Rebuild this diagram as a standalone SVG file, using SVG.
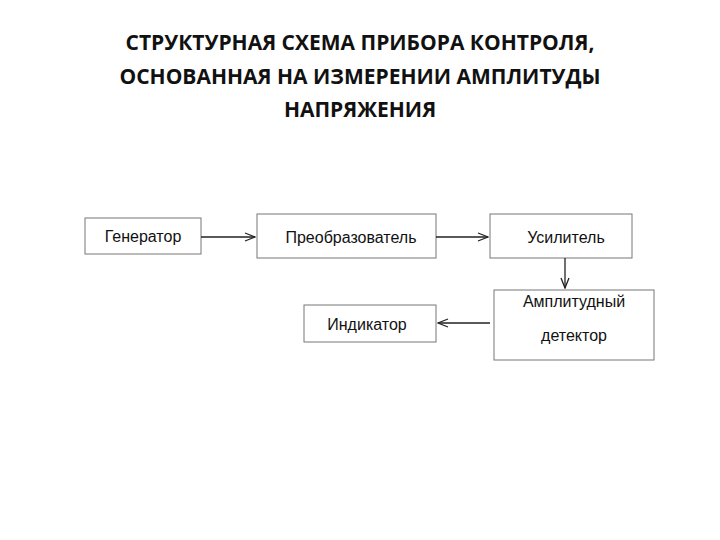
<svg xmlns="http://www.w3.org/2000/svg" width="720" height="540" viewBox="0 0 720 540">
<style>
.t{font-family:"Open Sans","Liberation Sans",sans-serif;font-weight:bold;font-size:21px;fill:#111;text-anchor:middle}
.b{fill:#fff;stroke:#777;stroke-width:1}
.l{font-family:"Liberation Sans",Arial,sans-serif;font-size:16px;fill:#111;text-anchor:middle}
.c{stroke:#222;stroke-width:1.3;fill:none}
</style>
<defs><marker id="a" markerWidth="12" markerHeight="10" refX="11" refY="5" orient="auto" markerUnits="userSpaceOnUse"><path d="M1,1 L11,5 L1,9" fill="none" stroke="#222" stroke-width="1.3"/></marker></defs>
<rect width="720" height="540" fill="#fff"/>
<text class="t" x="360" y="50">СТРУКТУРНАЯ СХЕМА ПРИБОРА КОНТРОЛЯ,</text>
<text class="t" x="360" y="84">ОСНОВАННАЯ НА ИЗМЕРЕНИИ АМПЛИТУДЫ</text>
<text class="t" x="360" y="117">НАПРЯЖЕНИЯ</text>
<g id="gen"><rect class="b" x="85" y="218" width="116" height="36"/><text class="l" x="143" y="242">Генератор</text></g>
<g id="pre"><rect class="b" x="257" y="214" width="179" height="44"/><text class="l" x="351" y="243">Преобразователь</text></g>
<g id="amp"><rect class="b" x="490" y="214" width="142" height="44"/><text class="l" x="566" y="243">Усилитель</text></g>
<g id="det"><rect class="b" x="494" y="290" width="160" height="70"/><text class="l" x="574" y="307">Амплитудный</text><text class="l" x="574" y="341">детектор</text></g>
<g id="ind"><rect class="b" x="304" y="305" width="132" height="37"/><text class="l" x="367" y="330">Индикатор</text></g>
<g id="connectors">
<line class="c" x1="201" y1="237" x2="255" y2="237" marker-end="url(#a)"/>
<line class="c" x1="436" y1="237" x2="488" y2="237" marker-end="url(#a)"/>
<line class="c" x1="565" y1="258" x2="565" y2="288" marker-end="url(#a)"/>
<line class="c" x1="490" y1="323" x2="438" y2="323" marker-end="url(#a)"/>
</g>
</svg>
